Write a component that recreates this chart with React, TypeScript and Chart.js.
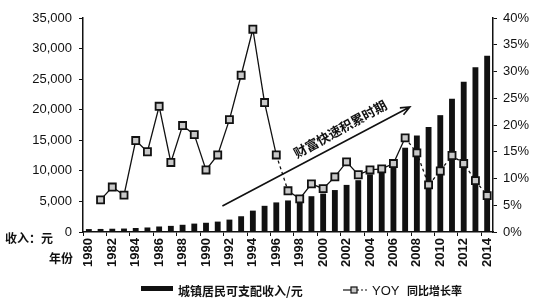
import React, { useEffect, useRef } from "react";
import { Chart, registerables } from "chart.js";

Chart.register(...registerables);

const years: string[] = [
  "1980","1981","1982","1983","1984","1985","1986","1987","1988","1989",
  "1990","1991","1992","1993","1994","1995","1996","1997","1998","1999",
  "2000","2001","2002","2003","2004","2005","2006","2007","2008","2009",
  "2010","2011","2012","2013","2014",
];

const income: number[] = [
  478, 500, 535, 565, 652, 739, 900, 1002, 1180, 1374,
  1510, 1701, 2027, 2577, 3496, 4283, 4839, 5160, 5425, 5854,
  6280, 6860, 7703, 8472, 9422, 10493, 11759, 13786, 15781, 17175,
  19109, 21810, 24565, 26955, 28844,
];

const yoy: (number | null)[] = [
  null, 6.0, 8.4, 6.9, 17.1, 15.0, 23.5, 13.0, 19.9, 18.2,
  11.6, 14.4, 21.0, 29.3, 37.9, 24.2, 14.4, 7.7, 6.2, 9.0,
  8.1, 10.3, 13.1, 10.7, 11.6, 11.8, 12.8, 17.6, 14.8, 8.8,
  11.4, 14.3, 12.8, 9.6, 6.8,
];

const leftTicks = { min: 0, max: 35000, step: 5000 };
const rightTicks = { min: 0, max: 40, step: 5 };

const FONT = '"Liberation Sans", "Noto Sans CJK SC", Arial, sans-serif';
const CJK = '"Noto Sans CJK SC", "Liberation Sans", sans-serif';

const legendIncome = "城镇居民可支配收入/元";
const legendYoy = "YOY";
const legendYoyCn = "同比增长率";
const annotationText = "财富快速积累时期";
const yUnitText = "收入：元";
const xUnitText = "年份";

const decoPlugin = {
  id: "deco",
  afterDraw(chart: any) {
    const ctx = chart.ctx as CanvasRenderingContext2D;
    const x = chart.scales.x;
    const y = chart.scales.y;
    ctx.save();
    ctx.fillStyle = "#111";
    ctx.textBaseline = "middle";
    ctx.textAlign = "left";
    ctx.font = `bold 12px ${CJK}`;
    ctx.fillText(yUnitText, 5, 238);
    ctx.fillText(xUnitText, 49, 258);

    // arrow
    const x0 = x.getPixelForValue(11.4);
    const y0 = y.getPixelForValue(4250);
    const x1 = x.getPixelForValue(27.4);
    const y1 = y.getPixelForValue(20440);
    const ang = Math.atan2(y1 - y0, x1 - x0);
    ctx.strokeStyle = "#111";
    ctx.lineWidth = 1.6;
    ctx.beginPath();
    ctx.moveTo(x0, y0);
    ctx.lineTo(x1, y1);
    const ah = 10;
    ctx.moveTo(x1 - ah * Math.cos(ang - 0.4), y1 - ah * Math.sin(ang - 0.4));
    ctx.lineTo(x1, y1);
    ctx.lineTo(x1 - ah * Math.cos(ang + 0.4), y1 - ah * Math.sin(ang + 0.4));
    ctx.stroke();

    // annotation text
    const tx = x.getPixelForValue(21.45);
    const ty = y.getPixelForValue(16850);
    ctx.save();
    ctx.translate(tx, ty);
    ctx.rotate(Math.atan2(y1 - y0, x1 - x0) - 0.02);
    ctx.textAlign = "center";
    ctx.font = `bold 13px ${CJK}`;
    ctx.fillText(annotationText, 0, 0);
    ctx.restore();

    // legend
    ctx.fillStyle = "#111";
    ctx.fillRect(141, 286, 32, 5);
    ctx.font = `bold 12px ${CJK}`;
    ctx.textAlign = "left";
    ctx.fillText(legendIncome, 178, 291);

    ctx.lineWidth = 1.2;
    ctx.beginPath();
    ctx.moveTo(343, 290);
    ctx.lineTo(351, 290);
    ctx.stroke();
    ctx.setLineDash([2, 2]);
    ctx.beginPath();
    ctx.moveTo(357, 290);
    ctx.lineTo(368, 290);
    ctx.stroke();
    ctx.setLineDash([]);
    ctx.fillStyle = "#c8c8c8";
    ctx.fillRect(351, 287, 6, 6);
    ctx.strokeRect(351, 287, 6, 6);
    ctx.fillStyle = "#111";
    ctx.font = `13px ${FONT}`;
    ctx.fillText(legendYoy, 372, 291);
    ctx.font = `bold 11px ${CJK}`;
    ctx.fillText(legendYoyCn, 407, 291);
    ctx.restore();
  },
};

export default function App() {
  const ref = useRef<HTMLCanvasElement | null>(null);

  useEffect(() => {
    if (!ref.current) return;
    const chart = new Chart(ref.current, {
      type: "bar",
      data: {
        labels: years,
        datasets: [
          {
            type: "line",
            label: "YOY 同比增长率",
            data: yoy,
            yAxisID: "y1",
            borderColor: "#111",
            borderWidth: 1.3,
            backgroundColor: "#c8c8c8",
            pointStyle: "rect",
            pointRadius: 5,
            pointBorderWidth: 1.8,
            pointBorderColor: "#111",
            pointBackgroundColor: "#c8c8c8",
            tension: 0,
            order: 0,
            segment: {
              borderDash: (c: any) =>
                c.p0DataIndex === 16 || c.p0DataIndex >= 27 ? [3, 3] : undefined,
            },
          } as any,
          {
            type: "bar",
            label: "城镇居民可支配收入/元",
            data: income,
            yAxisID: "y",
            backgroundColor: "#111",
            borderWidth: 0,
            barPercentage: 0.5,
            categoryPercentage: 1,
            order: 1,
          },
        ],
      },
      options: {
        responsive: false,
        animation: false,
        devicePixelRatio: 1,
        layout: { padding: { left: 0, right: 0, top: 18, bottom: 30 } },
        plugins: {
          legend: { display: false },
          tooltip: { enabled: false },
        },
        scales: {
          x: {
            offset: true,
            border: { color: "#111", width: 1.5 },
            grid: {
              drawOnChartArea: false,
              tickLength: 4,
              color: (c: any) => (c.index % 2 === 0 ? "#111" : "rgba(0,0,0,0)"),
            },
            ticks: {
              autoSkip: false,
              maxRotation: 90,
              minRotation: 90,
              padding: 2,
              color: "#111",
              font: { family: FONT, size: 13, weight: "bold" },
              callback: (_v: any, i: number) => (i % 2 === 0 ? years[i] : ""),
            },
            afterFit: (s: any) => {
              s.height = 44;
            },
          },
          y: {
            position: "left",
            min: leftTicks.min,
            max: leftTicks.max,
            border: { color: "#111", width: 1.5 },
            grid: { drawOnChartArea: false, tickLength: 4, color: "#111" },
            ticks: {
              stepSize: leftTicks.step,
              padding: 7,
              color: "#111",
              font: { family: FONT, size: 13 },
              callback: (v: any) => Number(v).toLocaleString("en-US"),
            },
            afterFit: (s: any) => {
              s.width = 83;
            },
          },
          y1: {
            position: "right",
            min: rightTicks.min,
            max: rightTicks.max,
            border: { color: "#111", width: 1.5 },
            grid: { drawOnChartArea: false, tickLength: 4, color: "#111" },
            ticks: {
              stepSize: rightTicks.step,
              padding: 6,
              color: "#111",
              font: { family: FONT, size: 13 },
              callback: (v: any) => `${v}%`,
            },
            afterFit: (s: any) => {
              s.width = 43;
            },
          },
        },
      },
      plugins: [decoPlugin],
    });
    return () => chart.destroy();
  }, []);

  return (
    <div style={{ position: "fixed", left: 0, top: 0, width: 536, height: 306, background: "#fff" }}>
      <canvas ref={ref} width={536} height={306} />
    </div>
  );
}
